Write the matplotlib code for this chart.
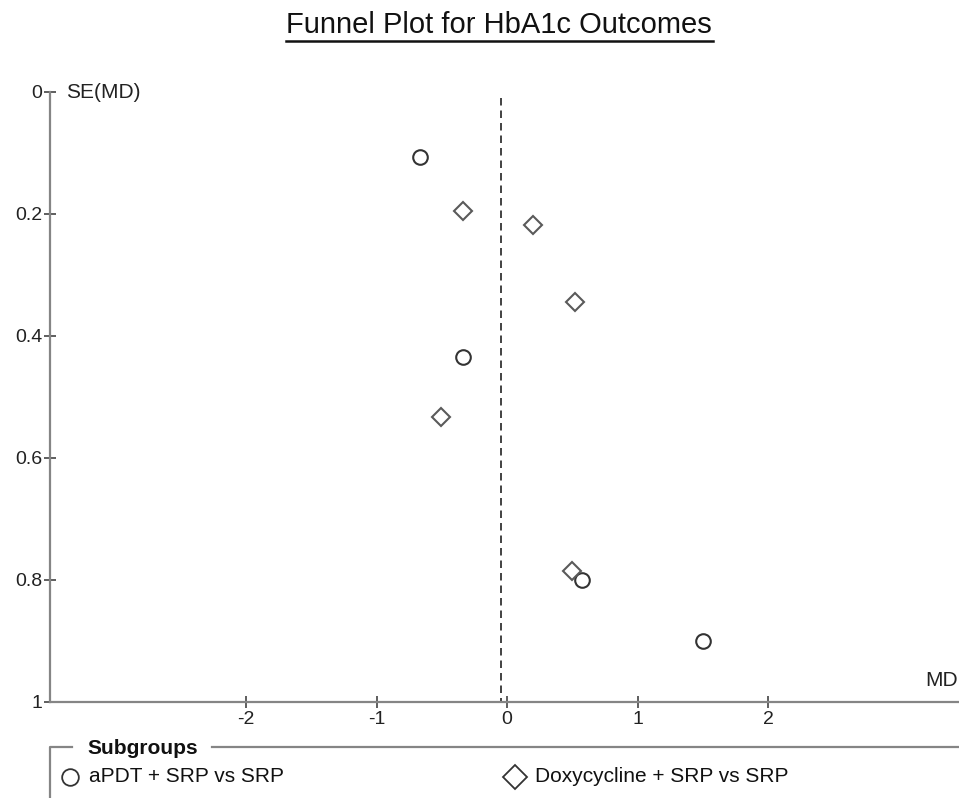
import matplotlib
matplotlib.use("Agg")
import matplotlib.pyplot as plt
from matplotlib.lines import Line2D

plt.rcParams['font.family'] = ['Liberation Sans', 'DejaVu Sans']

# mean difference and its standard error
apdt_md = [-0.67, -0.34, 0.57, 1.50]
apdt_se = [0.107, 0.435, 0.80, 0.90]
doxy_md = [-0.34, 0.20, 0.52, -0.51, 0.50]
doxy_se = [0.195, 0.218, 0.345, 0.532, 0.785]
pooled_md = -0.05

x_ticks = [-2, -1, 0, 1, 2]
y_ticks = [0, 0.2, 0.4, 0.6, 0.8, 1]
y_labels = ['0', '0.2', '0.4', '0.6', '0.8', '1']
group_names = ['aPDT + SRP vs SRP', 'Doxycycline + SRP vs SRP']

W, H = 959, 798
axis_grey = '#858585'

fig = plt.figure(figsize=(W / 100, H / 100), dpi=100)
ax = fig.add_axes([50 / W, 1 - 702 / H, 1 - 50 / W, (702 - 92) / H])
ax.set_xlim(-3.50, 3.46)
ax.set_ylim(1, 0)

for s in ['top', 'right']:
    ax.spines[s].set_visible(False)
for s in ['left', 'bottom']:
    ax.spines[s].set_color(axis_grey)
    ax.spines[s].set_linewidth(1.6)

ax.set_xticks(x_ticks)
ax.set_xticklabels([str(t) for t in x_ticks])
ax.set_yticks(y_ticks)
ax.set_yticklabels(y_labels)
ax.tick_params(axis='both', direction='inout', length=9, width=1.1,
               color='#333333', labelsize=14, labelcolor='#222222')
ax.tick_params(axis='x', pad=2)
ax.tick_params(axis='y', pad=1)

ax.plot([pooled_md, pooled_md], [0.01, 1], ls=(0, (4.5, 3)), color='#222222',
        lw=1.2, zorder=1)

ax.plot(apdt_md, apdt_se, 'o', ms=10.5, mfc='white', mec='#333333', mew=1.5,
        ls='none', zorder=3)
ax.plot(doxy_md, doxy_se, 'D', ms=9.5, mfc='white', mec='#5a5a5a', mew=1.5,
        ls='none', zorder=3)

ax.text(-3.38, 0, 'SE(MD)', fontsize=15, color='#222222', va='center',
        ha='left')
ax.text(3.45, 0.965, 'MD', fontsize=15, color='#222222', va='center',
        ha='right', clip_on=False)

title = fig.text(499 / W, 1 - 25 / H, 'Funnel Plot for HbA1c Outcomes',
                 fontsize=21, ha='center', va='center', color='#111111')
fig.add_artist(Line2D([286 / W, 713 / W], [1 - 41 / H, 1 - 41 / H],
                      color='#111111', lw=1.8))

# legend frame
def fig_line(xs, ys):
    fig.add_artist(Line2D([x / W for x in xs], [1 - y / H for y in ys],
                          color=axis_grey, lw=1.6))

fig_line([50, 50, 72], [800, 747, 747])
fig_line([212, 960], [747, 747])
fig.text(87 / W, 1 - 748 / H, 'Subgroups', fontsize=15, fontweight='bold',
         ha='left', va='center', color='#111111')

fig.add_artist(Line2D([70 / W], [1 - 777 / H], marker='o', ms=12,
                      mfc='white', mec='#333333', mew=1.3))
fig.text(89 / W, 1 - 777 / H, group_names[0], fontsize=15, ha='left',
         va='center', color='#111111')
fig.add_artist(Line2D([515 / W], [1 - 777 / H], marker='D', ms=12,
                      mfc='white', mec='#333333', mew=1.3))
fig.text(535 / W, 1 - 777 / H, group_names[1], fontsize=15, ha='left',
         va='center', color='#111111')

fig.savefig('out.png', dpi=100)
